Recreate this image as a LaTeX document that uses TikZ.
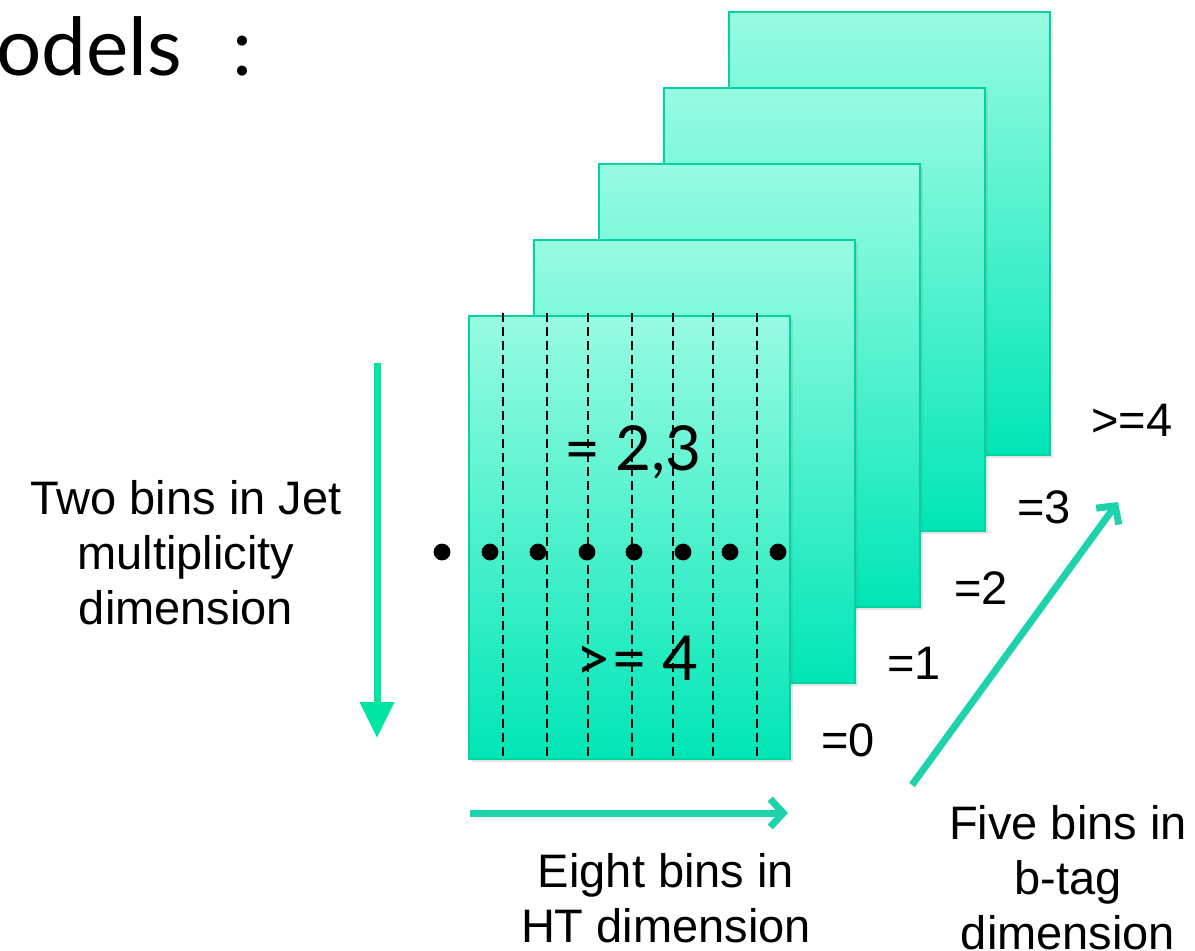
\documentclass[tikz,border=0pt]{standalone}
\usepackage{fontspec}
\setmainfont{Liberation Sans}
\newfontfamily\gillfont{Lato}
\usetikzlibrary{arrows.meta, positioning, shadows}
\definecolor{panelTop}{HTML}{98FCE2}
\definecolor{panelBottom}{HTML}{00E6B6}
\definecolor{panelEdge}{HTML}{00D2A2}
\definecolor{jetArrow}{HTML}{00E6A2}
\definecolor{binArrow}{HTML}{1CD3AC}

\begin{document}
\begin{tikzpicture}[x=0.5pt, y=-0.5pt,
    panel/.style={draw=panelEdge, line width=1pt, top color=panelTop, bottom color=panelBottom,
        minimum width=160.5pt, minimum height=221.5pt, inner sep=0pt,
        drop shadow={shadow xshift=1.5pt, shadow yshift=-1.5pt, opacity=0.2}},
    binline/.style={dash pattern=on 4.5pt off 2.5pt, line width=1.25pt},
    label/.style={font=\fontsize{23.5}{27.5}\selectfont, align=center},
    cut/.style={font=\gillfont\fontsize{31}{36}\selectfont},
    jetarrow/.style={jetArrow, line width=3.5pt, -{Triangle[length=18pt, width=16.5pt]}},
    binarrow/.style={binArrow, line width=3.5pt, -{Straight Barb[length=6.5pt, width=14pt]}},
]
\useasboundingbox (0,0) rectangle (1195,950);

\node[font=\gillfont\fontsize{40}{46}\selectfont, anchor=base west, inner sep=0pt] (title) at (-4,75) {odels\hspace{25pt}:};

% five b-tag planes, back to front
\foreach \i in {4,3,2,1,0}
  \node[panel] (p\i) at ({629.5+65*\i},{537.5-76*\i}) {};

% HT bins
\foreach \x in {503,547,588,632,673,713,757}
  \draw[binline] (\x,313) -- (\x,759);

% split of the jet multiplicity
\foreach \x in {442,490,538,587,634,683,730,778}
  \fill (\x,552) circle[radius=4.2pt];

\node[cut] (jetlow) at (633,452) {= 2,3};
\node[cut] (jethigh) at (637,658) {>= 4};

\node[label] (b0) at (848,740) {=0};
\node[label] (b1) at (914,663) {=1};
\node[label] (b2) at (981,588) {=2};
\node[label] (b3) at (1044,507) {=3};
\node[label] (b4) at (1132,420) {>=4};

% axes
\coordinate (jetTop) at (377,363);
\coordinate (jetEnd) at (377,738);
\coordinate (htStart) at (470,813);
\coordinate (htEnd) at (788,813);
\coordinate (btagStart) at (912,785);
\coordinate (btagEnd) at (1118,502);

\draw[jetarrow] (jetTop) -- (jetEnd);
\draw[binarrow] (htStart) -- (htEnd);
\draw[binarrow] (btagStart) -- (btagEnd);

\node[label] (jetlabel) at (186,553) {Two bins in Jet\\multiplicity\\dimension};
\node[label] (htlabel) at (666,898) {Eight bins in\\HT dimension};
\node[label] (btaglabel) at (1068,878) {Five bins in\\b-tag\\dimension};

\end{tikzpicture}
\end{document}
